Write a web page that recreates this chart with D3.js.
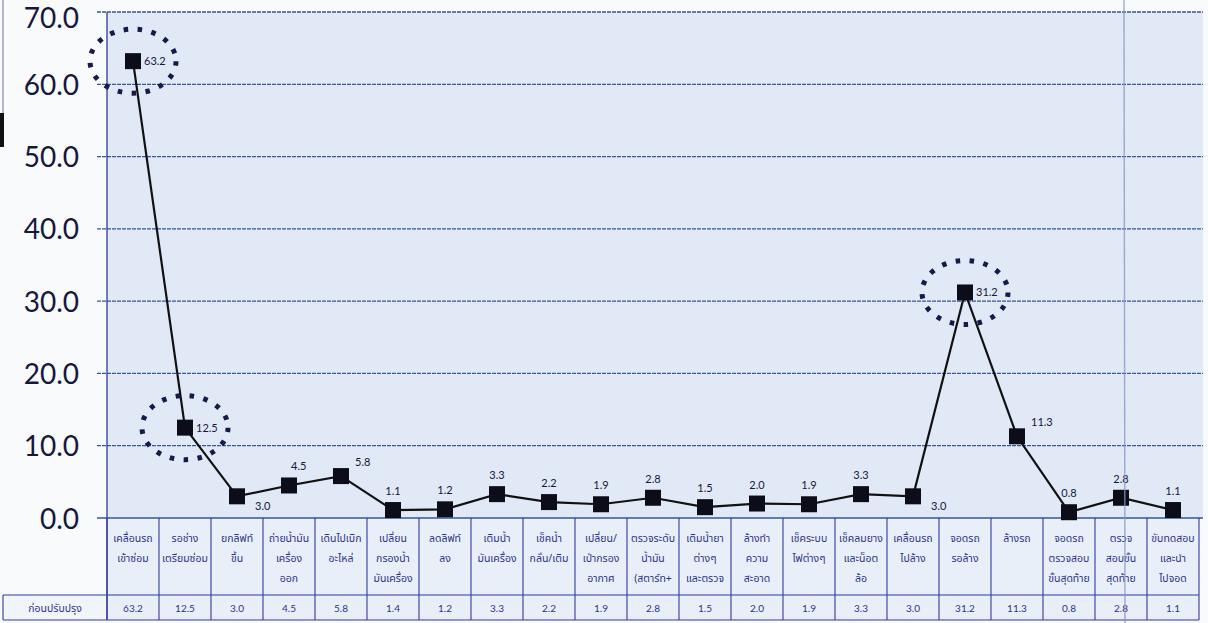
<!DOCTYPE html>
<html>
<head>
<meta charset="utf-8">
<script src="https://cdn.jsdelivr.net/npm/d3@7"></script>
<style>
  html, body { margin: 0; padding: 0; background: #f9fafc; }
  svg { display: block; }
</style>
</head>
<body>
<svg id="chart" width="1208" height="623"></svg>
<script>
// Process steps (each label split into its printed lines)
const categories = [
  ["เคลื่อนรถ", "เข้าซ่อม"],
  ["รอช่าง", "เตรียมซ่อม"],
  ["ยกลิฟท์", "ขึ้น"],
  ["ถ่ายน้ำมัน", "เครื่อง", "ออก"],
  ["เดินไปเบิก", "อะไหล่"],
  ["เปลี่ยน", "กรองน้ำ", "มันเครื่อง"],
  ["ลดลิฟท์", "ลง"],
  ["เติมน้ำ", "มันเครื่อง"],
  ["เช็คน้ำ", "กลั่น/เติม"],
  ["เปลี่ยน/", "เป่ากรอง", "อากาศ"],
  ["ตรวจระดับ", "น้ำมัน", "(สตาร์ท+"],
  ["เติมน้ำยา", "ต่างๆ", "และตรวจ"],
  ["ล้างทำ", "ความ", "สะอาด"],
  ["เช็คระบบ", "ไฟต่างๆ"],
  ["เช็คลมยาง", "และน็อต", "ล้อ"],
  ["เคลื่อนรถ", "ไปล้าง"],
  ["จอดรถ", "รอล้าง"],
  ["ล้างรถ"],
  ["จอดรถ", "ตรวจสอบ", "ขั้นสุดท้าย"],
  ["ตรวจ", "สอบขั้น", "สุดท้าย"],
  ["ขับทดสอบ", "และนำ", "ไปจอด"]
];

// Values plotted on the line (as labelled at each point)
const lineValues = [63.2, 12.5, 3.0, 4.5, 5.8, 1.1, 1.2, 3.3, 2.2, 1.9, 2.8, 1.5, 2.0, 1.9, 3.3, 3.0, 31.2, 11.3, 0.8, 2.8, 1.1];

// Values printed in the data table row
const tableValues = [63.2, 12.5, 3.0, 4.5, 5.8, 1.4, 1.2, 3.3, 2.2, 1.9, 2.8, 1.5, 2.0, 1.9, 3.3, 3.0, 31.2, 11.3, 0.8, 2.8, 1.1];

const seriesName = "ก่อนปรับปรุง";
const yTicks = [0, 10, 20, 30, 40, 50, 60, 70];

// Steps highlighted with a dotted ring
const highlighted = [0, 1, 16];

const svg = d3.select("#chart");
const W = 1208, H = 623;
const plot = { left: 107, right: 1199, top: 12, bottom: 518 };
const table = { top: 518, mid: 595, bottom: 620, labelLeft: 3 };

const x = d3.scaleBand()
  .domain(d3.range(categories.length))
  .range([plot.left, plot.right])
  .paddingInner(0).paddingOuter(0);
const y = d3.scaleLinear().domain([0, 70]).range([plot.bottom, plot.top]);

const ink = "#15183a";
const tableInk = "#2b3488";
const border = "#2e3a9c";
const gridCol = "#345898";

// plot background
svg.append("rect")
  .attr("x", plot.left).attr("y", plot.top)
  .attr("width", 1203 - plot.left).attr("height", plot.bottom - plot.top)
  .attr("fill", "#e1e9f7");

// table background
svg.append("rect")
  .attr("x", plot.left).attr("y", table.top)
  .attr("width", plot.right - plot.left).attr("height", table.bottom - table.top)
  .attr("fill", "#e9eff9");
svg.append("rect")
  .attr("x", table.labelLeft).attr("y", table.mid)
  .attr("width", plot.left - table.labelLeft).attr("height", table.bottom - table.mid)
  .attr("fill", "#f1f4fa");

// horizontal gridlines with tick extensions
svg.append("g")
  .selectAll("line")
  .data(yTicks)
  .join("line")
  .attr("x1", 97).attr("x2", 1203)
  .attr("y1", d => y(d)).attr("y2", d => y(d))
  .attr("stroke", gridCol)
  .attr("stroke-width", 1.3)
  .attr("stroke-dasharray", d => d === 0 ? null : "4 1");

// y axis labels (the top one sits just under its gridline to stay on the page)
const yAxis = d3.axisLeft(y).tickValues(yTicks).tickFormat(d3.format(".1f")).tickSize(0).tickPadding(0);
const yg = svg.append("g").attr("transform", "translate(79,0)").call(yAxis);
yg.select(".domain").remove();
yg.selectAll("text")
  .attr("fill", ink)
  .attr("font-family", "'Century Gothic', 'URW Gothic', Lato, 'Open Sans', sans-serif")
  .attr("font-size", 28)
  .attr("dy", d => d === 70 ? "0.55em" : "0.36em");

// left plot border
svg.append("line")
  .attr("x1", plot.left).attr("x2", plot.left)
  .attr("y1", plot.top).attr("y2", table.bottom)
  .attr("stroke", border).attr("stroke-width", 1.3);

// table grid
const tg = svg.append("g").attr("stroke", border).attr("stroke-width", 1.1).attr("fill", "none");
tg.selectAll("line.col")
  .data(d3.range(categories.length + 1))
  .join("line")
  .attr("x1", i => i < categories.length ? x(i) : plot.right)
  .attr("x2", i => i < categories.length ? x(i) : plot.right)
  .attr("y1", table.top).attr("y2", table.bottom);
tg.append("line").attr("x1", table.labelLeft).attr("x2", plot.right).attr("y1", table.mid).attr("y2", table.mid);
tg.append("line").attr("x1", table.labelLeft).attr("x2", plot.right).attr("y1", table.bottom).attr("y2", table.bottom);
tg.append("line").attr("x1", table.labelLeft).attr("x2", table.labelLeft).attr("y1", table.mid).attr("y2", table.bottom);

// category labels
const thaiFont = "'Noto Sans Thai', 'Noto Sans Thai UI', 'Noto Sans', Tahoma, sans-serif";
const catG = svg.append("g");
categories.forEach((lines, i) => {
  const cx = x(i) + x.bandwidth() / 2;
  lines.forEach((ln, j) => {
    catG.append("text")
      .attr("x", cx).attr("y", 542 + j * 20)
      .attr("text-anchor", "middle")
      .attr("font-family", thaiFont)
      .attr("font-size", 10.5)
      .attr("fill", tableInk)
      .text(ln);
  });
});

// table value row
svg.append("text")
  .attr("x", (table.labelLeft + plot.left) / 2).attr("y", 612)
  .attr("text-anchor", "middle")
  .attr("font-family", thaiFont)
  .attr("font-size", 10.5)
  .attr("fill", tableInk)
  .text(seriesName);
svg.append("g").selectAll("text")
  .data(tableValues)
  .join("text")
  .attr("x", (d, i) => x(i) + x.bandwidth() / 2)
  .attr("y", 612)
  .attr("text-anchor", "middle")
  .attr("font-family", "'Century Gothic', Lato, 'Open Sans', sans-serif")
  .attr("font-size", 10)
  .attr("fill", tableInk)
  .text(d => d.toFixed(1));

// the series line
const px = i => x(i) + x.bandwidth() / 2;
svg.append("path")
  .datum(lineValues)
  .attr("fill", "none")
  .attr("stroke", "#111")
  .attr("stroke-width", 2.2)
  .attr("d", d3.line().x((d, i) => px(i)).y(d => y(d)));

// square markers
const mk = 16;
svg.append("g").selectAll("rect")
  .data(lineValues)
  .join("rect")
  .attr("x", (d, i) => px(i) - mk / 2)
  .attr("y", d => y(d) - mk / 2)
  .attr("width", mk).attr("height", mk)
  .attr("fill", "#0d0d1a");

// dotted highlight rings
svg.append("g").selectAll("ellipse")
  .data(highlighted)
  .join("ellipse")
  .attr("cx", i => px(i))
  .attr("cy", i => y(lineValues[i]))
  .attr("rx", 43).attr("ry", 32)
  .attr("fill", "none")
  .attr("stroke", "#141a4a")
  .attr("stroke-width", 5)
  .attr("stroke-dasharray", "4.5 9.5");

// value labels: placement around each marker
const place = i => {
  if (i === 0 || i === 1 || i === 16) return { dx: 11, dy: 4, anchor: "start" };
  if (i === 2 || i === 15) return { dx: 18, dy: 14, anchor: "start" };
  if (i === 3) return { dx: 2, dy: -15, anchor: "start" };
  if (i === 4 || i === 17) return { dx: 14, dy: -10, anchor: "start" };
  return { dx: 0, dy: -15, anchor: "middle" };
};
svg.append("g").selectAll("text")
  .data(lineValues)
  .join("text")
  .attr("x", (d, i) => px(i) + place(i).dx)
  .attr("y", (d, i) => y(d) + place(i).dy)
  .attr("text-anchor", (d, i) => place(i).anchor)
  .attr("font-family", "'Century Gothic', Lato, 'Open Sans', sans-serif")
  .attr("font-size", 11)
  .attr("fill", ink)
  .text(d => d.toFixed(1));

// paper fold line and margin marks
svg.append("line")
  .attr("x1", 1124).attr("x2", 1125).attr("y1", 0).attr("y2", H)
  .attr("stroke", "#8a97c6").attr("stroke-width", 1.4).attr("opacity", 0.8);
svg.append("line")
  .attr("x1", 3).attr("x2", 3).attr("y1", 0).attr("y2", 140)
  .attr("stroke", "#6a74a8").attr("stroke-width", 1);
svg.append("rect")
  .attr("x", 0).attr("y", 113).attr("width", 4).attr("height", 34)
  .attr("fill", "#111");
</script>
</body>
</html>
